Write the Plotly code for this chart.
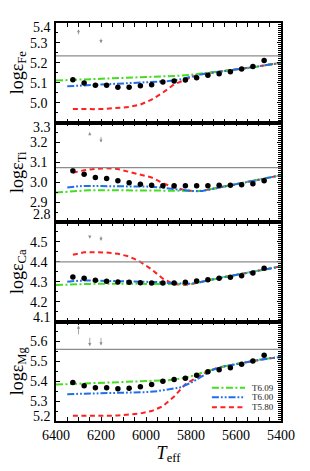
import plotly.graph_objects as go
from plotly.subplots import make_subplots

# ---------------- data ----------------
teff_obs = [6325, 6275, 6225, 6175, 6125, 6075, 6025, 5975, 5925,
            5875, 5825, 5775, 5725, 5675, 5625, 5575, 5525, 5475]
fe_obs = [5.115, 5.099, 5.087, 5.087, 5.077, 5.077, 5.085, 5.090, 5.104,
          5.109, 5.114, 5.125, 5.137, 5.145, 5.155, 5.169, 5.182, 5.212]
ti_obs = [3.057, 3.040, 3.024, 3.019, 3.007, 2.997, 2.990, 2.985, 2.982,
          2.982, 2.982, 2.982, 2.982, 2.985, 2.985, 2.987, 2.992, 3.007]
ca_obs = [4.324, 4.317, 4.307, 4.302, 4.299, 4.297, 4.295, 4.294, 4.294,
          4.294, 4.297, 4.304, 4.310, 4.317, 4.322, 4.330, 4.344, 4.367]
mg_obs = [5.394, 5.377, 5.367, 5.367, 5.362, 5.364, 5.372, 5.384, 5.400,
          5.409, 5.415, 5.430, 5.447, 5.457, 5.467, 5.485, 5.502, 5.530]

teff_T609 = [6400, 6350, 6300, 6250, 6200, 6150, 6100, 6050, 6000, 5950, 5900,
             5850, 5800, 5750, 5700, 5650, 5600, 5550, 5500, 5450, 5400]
teff_T600 = [6350, 6300, 6250, 6200, 6150, 6100, 6050, 6000, 5950, 5900,
             5850, 5800, 5750, 5700, 5650, 5600, 5550, 5500, 5450, 5400]
teff_T580 = [6325, 6275, 6225, 6175, 6125, 6075, 6025, 5975, 5925, 5875,
             5825, 5775, 5725, 5675, 5625, 5575, 5525, 5475, 5425, 5400]

fe_T609 = [5.111, 5.113, 5.115, 5.116, 5.118, 5.120, 5.122, 5.124, 5.126, 5.128, 5.131,
           5.135, 5.140, 5.146, 5.152, 5.158, 5.165, 5.173, 5.182, 5.191, 5.200]
fe_T600 = [5.082, 5.085, 5.087, 5.090, 5.092, 5.095, 5.097, 5.100, 5.103, 5.108,
           5.116, 5.130, 5.143, 5.151, 5.158, 5.165, 5.173, 5.182, 5.191, 5.200]
fe_T580 = [4.968, 4.967, 4.967, 4.969, 4.972, 4.978, 4.990, 5.015, 5.050, 5.092,
           5.115, 5.138, 5.148, 5.155, 5.162, 5.169, 5.178, 5.187, 5.196, 5.200]

ti_T609 = [2.948, 2.953, 2.958, 2.960, 2.960, 2.960, 2.960, 2.960, 2.960, 2.960, 2.959,
           2.957, 2.955, 2.956, 2.968, 2.979, 2.990, 3.001, 3.012, 3.024, 3.035]
ti_T600 = [2.973, 2.980, 2.981, 2.981, 2.981, 2.981, 2.980, 2.978, 2.975, 2.968,
           2.961, 2.956, 2.956, 2.968, 2.979, 2.990, 3.001, 3.012, 3.024, 3.035]
ti_T580 = [3.048, 3.060, 3.067, 3.070, 3.066, 3.053, 3.037, 3.024, 2.995, 2.973,
           2.960, 2.954, 2.962, 2.974, 2.985, 2.996, 3.007, 3.018, 3.030, 3.035]

ca_T609 = [4.283, 4.286, 4.288, 4.289, 4.290, 4.290, 4.290, 4.290, 4.290, 4.290, 4.289,
           4.288, 4.288, 4.300, 4.313, 4.324, 4.334, 4.345, 4.356, 4.366, 4.377]
ca_T600 = [4.300, 4.305, 4.306, 4.305, 4.304, 4.303, 4.302, 4.300, 4.298, 4.294,
           4.290, 4.289, 4.300, 4.313, 4.324, 4.334, 4.345, 4.356, 4.366, 4.377]
ca_T580 = [4.435, 4.448, 4.448, 4.447, 4.440, 4.427, 4.400, 4.362, 4.315, 4.287,
           4.284, 4.293, 4.307, 4.319, 4.329, 4.340, 4.350, 4.361, 4.371, 4.377]

mg_T609 = [5.383, 5.385, 5.388, 5.390, 5.392, 5.394, 5.396, 5.398, 5.400, 5.401, 5.405,
           5.413, 5.425, 5.443, 5.459, 5.475, 5.486, 5.497, 5.507, 5.515, 5.522]
mg_T600 = [5.335, 5.336, 5.337, 5.338, 5.339, 5.341, 5.343, 5.345, 5.350, 5.358,
           5.368, 5.392, 5.427, 5.459, 5.475, 5.486, 5.497, 5.507, 5.515, 5.522]
mg_T580 = [5.226, 5.225, 5.225, 5.226, 5.228, 5.232, 5.238, 5.250, 5.274, 5.323,
           5.385, 5.418, 5.450, 5.470, 5.481, 5.492, 5.502, 5.511, 5.518, 5.522]

fe_ref, ti_ref, ca_ref, mg_ref = 5.235, 3.073, 4.40, 5.56

arrow_teff = [6300, 6250, 6200]
fe_arrow_tail = [5.335, 5.329, 5.329]
fe_arrow_head = [5.369, 5.321, 5.298]
ti_arrow_tail = [3.236, 3.235, 3.235]
ti_arrow_head = [3.233, 3.252, 3.199]
ca_arrow_tail = [4.541, 4.537, 4.536]
ca_arrow_head = [4.536, 4.516, 4.505]
mg_arrow_tail = [5.628, 5.625, 5.625]
mg_arrow_head = [5.680, 5.576, 5.580]

fe_ticks = [4.9, 5.0, 5.1, 5.2, 5.3, 5.4]
fe_tick_labels = ["", "5.0", "5.1", "5.2", "5.3", ""]
ti_ticks = [2.8, 2.9, 3.0, 3.1, 3.2, 3.3]
ti_tick_labels = ["", "2.9", "3.0", "3.1", "3.2", ""]
ca_ticks = [4.1, 4.2, 4.3, 4.4, 4.5, 4.6]
ca_tick_labels = ["", "4.2", "4.3", "4.4", "4.5", ""]
mg_ticks = [5.2, 5.3, 5.4, 5.5, 5.6, 5.7]
mg_tick_labels = ["", "5.3", "5.4", "5.5", "5.6", ""]

x_ticks = [6400, 6200, 6000, 5800, 5600, 5400]
model_names = ["T6.09", "T6.00", "T5.80"]

# ---------------- style ----------------
FONT = "Liberation Serif"
C609, C600, C580 = "#44dd22", "#1f6fe8", "#ff2020"
D609 = "7px,2.5px,2px,2.5px"
D600 = "7px,2px,1.8px,2px,1.8px,2px"
D580 = "5px,3.5px"
LW = 2

panels = [
    dict(el="Fe", obs=fe_obs, m609=fe_T609, m600=fe_T600, m580=fe_T580, ref=fe_ref,
         rng=[4.9, 5.4], tv=fe_ticks, tt=fe_tick_labels, tail=fe_arrow_tail, head=fe_arrow_head,
         edge=[("5.4", 5.4, -4)]),
    dict(el="Ti", obs=ti_obs, m609=ti_T609, m600=ti_T600, m580=ti_T580, ref=ti_ref,
         rng=[2.8, 3.3], tv=ti_ticks, tt=ti_tick_labels, tail=ti_arrow_tail, head=ti_arrow_head,
         edge=[("3.3", 3.3, -5), ("2.8", 2.8, 8)]),
    dict(el="Ca", obs=ca_obs, m609=ca_T609, m600=ca_T600, m580=ca_T580, ref=ca_ref,
         rng=[4.1, 4.6], tv=ca_ticks, tt=ca_tick_labels, tail=ca_arrow_tail, head=ca_arrow_head,
         edge=[("4.1", 4.1, 4)]),
    dict(el="Mg", obs=mg_obs, m609=mg_T609, m600=mg_T600, m580=mg_T580, ref=mg_ref,
         rng=[5.2, 5.7], tv=mg_ticks, tt=mg_tick_labels, tail=mg_arrow_tail, head=mg_arrow_head,
         edge=[("5.2", 5.2, 5)]),
]

fig = make_subplots(rows=4, cols=1, shared_xaxes=True, vertical_spacing=0,
                    specs=[[{"secondary_y": True}]] * 4)


def axref(ax):
    return ax.plotly_name.replace("axis", "")


for i, p in enumerate(panels):
    r = i + 1
    fig.add_trace(go.Scatter(x=teff_T580, y=p["m580"], mode="lines", showlegend=False,
                             line=dict(color=C580, width=LW, dash=D580)), row=r, col=1, secondary_y=False)
    fig.add_trace(go.Scatter(x=teff_T609, y=p["m609"], mode="lines", showlegend=False,
                             line=dict(color=C609, width=LW, dash=D609)), row=r, col=1, secondary_y=False)
    fig.add_trace(go.Scatter(x=teff_T600, y=p["m600"], mode="lines", showlegend=False,
                             line=dict(color=C600, width=LW, dash=D600)), row=r, col=1, secondary_y=False)
    fig.add_trace(go.Scatter(x=teff_obs, y=p["obs"], mode="markers", showlegend=False,
                             marker=dict(color="black", size=5.5)), row=r, col=1, secondary_y=True)

    sp = fig.get_subplot(r, 1, secondary_y=False)
    xr, yr = axref(sp.xaxis), axref(sp.yaxis)

    fig.add_hline(y=p["ref"], line=dict(color="#8c8c8c", width=1.2), row=r, col=1)

    fig.update_yaxes(range=p["rng"], tickmode="array", tickvals=p["tv"], ticktext=p["tt"],
                     ticks="inside", ticklen=4, tickwidth=1, tickcolor="black",
                     minor=dict(ticks="inside", ticklen=2, dtick=0.05, tick0=0, tickcolor="black"),
                     showline=True, linewidth=1.5, linecolor="black", mirror=False,
                     showgrid=False, zeroline=False,
                     tickfont=dict(family=FONT, size=14, color="black"), ticklabelstandoff=4,
                     title=dict(text="logε<sub>%s</sub>" % p["el"], standoff=2,
                                font=dict(family=FONT, size=18, color="black")),
                     row=r, col=1, secondary_y=False)
    fig.update_yaxes(range=p["rng"], tickmode="linear", tick0=0, dtick=0.1,
                     ticks="inside", ticklen=4, tickwidth=1, tickcolor="black",
                     minor=dict(ticks="inside", ticklen=3, dtick=0.01, tick0=0, tickcolor="black"),
                     showline=True, linewidth=1.5, linecolor="black", side="right",
                     showticklabels=False, showgrid=False, zeroline=False,
                     row=r, col=1, secondary_y=True)

    for lab, val, shift in p["edge"]:
        fig.add_annotation(text=lab, x=0, xref="paper", xanchor="right", xshift=-4,
                           y=val, yref=yr, yanchor="middle", yshift=shift, showarrow=False,
                           borderpad=0, font=dict(family=FONT, size=14, color="black"))

    for t, a0, a1 in zip(arrow_teff, p["tail"], p["head"]):
        fig.add_annotation(x=t, y=a1, ax=t, ay=a0, xref=xr, yref=yr, axref=xr, ayref=yr,
                           text="", showarrow=True, arrowhead=2, arrowsize=0.8, arrowwidth=0.8,
                           arrowcolor="#8f8f8f", standoff=0, startstandoff=0)

fig.update_xaxes(range=[6400, 5400], domain=[0, 1], tickmode="array", tickvals=x_ticks,
                 ticks="inside", ticklen=4, tickwidth=1, tickcolor="black",
                 minor=dict(ticks="inside", ticklen=2, dtick=50, tick0=0, tickcolor="black"),
                 showline=True, linewidth=1.5, linecolor="black", mirror="allticks",
                 showgrid=False, zeroline=False,
                 tickfont=dict(family=FONT, size=14, color="black"))
fig.update_xaxes(title=dict(text="<i>T</i><sub>eff</sub>", standoff=1,
                            font=dict(family=FONT, size=18, color="black")),
                 ticklabelstandoff=0, row=4, col=1)

# manual legend (panel 4, lower right)
leg_y = [0.0837, 0.0595, 0.0344]
leg_cols = [C609, C600, C580]
leg_dash = [D609, D600, D580]
for name, yy, c, d in zip(model_names, leg_y, leg_cols, leg_dash):
    fig.add_shape(type="line", xref="paper", yref="paper", x0=0.693, x1=0.84, y0=yy, y1=yy,
                  line=dict(color=c, width=LW, dash=d))
    fig.add_annotation(text=name, xref="paper", yref="paper", x=0.868, y=yy, xanchor="left",
                       yanchor="middle", showarrow=False, borderpad=0,
                       font=dict(family=FONT, size=9, color="#222222"))

fig.update_layout(width=310, height=471, margin=dict(l=56, r=29, t=23, b=50, autoexpand=False),
                  paper_bgcolor="white", plot_bgcolor="white", showlegend=False,
                  font=dict(family=FONT, color="black"))

fig.write_html("out.html", config={"displayModeBar": False},
               post_script="document.body.style.margin='0';document.documentElement.style.overflow='hidden';")
